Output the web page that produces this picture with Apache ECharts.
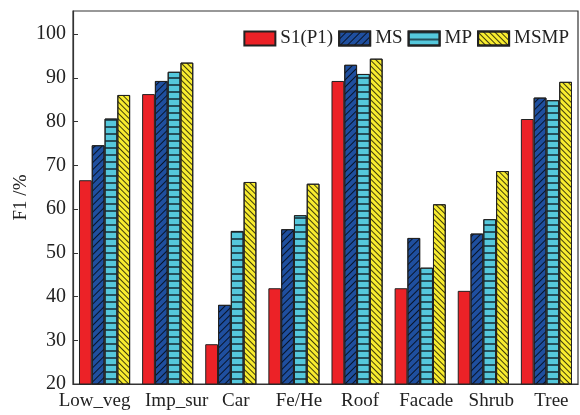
<!DOCTYPE html>
<html>
<head>
<meta charset="utf-8">
<script src="https://cdn.jsdelivr.net/npm/echarts@6/dist/echarts.min.js"></script>
<style>html,body{margin:0;padding:0;background:#fff}#c{width:580px;height:415px}</style>
</head>
<body>
<div id="c"></div>
<script>
var categories = ['Low_veg','Imp_sur','Car','Fe/He','Roof','Facade','Shrub','Tree'];
var seriesNames = ['S1(P1)','MS','MP','MSMP'];
var s1 = [66.6, 86.3, 29.1, 41.9, 89.3, 41.9, 41.3, 80.6];
var ms = [74.6, 89.3, 38.1, 55.4, 93.0, 53.4, 54.4, 85.5];
var mp = [80.7, 91.4, 55.0, 58.6, 90.9, 46.6, 57.7, 84.9];
var msmp = [86.1, 93.5, 66.2, 65.8, 94.4, 61.1, 68.7, 89.1];
var yTicks = [20,30,40,50,60,70,80,90,100];

var font = '"Liberation Serif", "DejaVu Serif", serif';
var colors = ['#ec2227','#1f4f9f','#55c8dc','#f8ec2f'];
var decals = [
  'none',
  {symbol:'rect', symbolSize:1, dashArrayX:[1,0], dashArrayY:[1,4], rotation:-Math.PI/4, color:'rgba(0,0,0,0.75)'},
  {symbol:'rect', symbolSize:1, dashArrayX:[1,0], dashArrayY:[2,5], rotation:0, color:'rgba(20,40,50,0.75)'},
  {symbol:'rect', symbolSize:1, dashArrayX:[1,0], dashArrayY:[1,3], rotation:Math.PI/4, color:'rgba(0,0,0,0.75)'}
];
// label horizontal nudges (px) to mimic reference label placement
var labelShift = [-10, 9, 5, 5, 3, 6, 8, 5];
var rich = {};
labelShift.forEach(function(s,i){
  rich['p'+i] = {fontFamily:font, fontSize:19, color:'#222',
    padding: s < 0 ? [0, -2*s, 0, 0] : [0, 0, 0, 2*s]};
});
var data = [s1, ms, mp, msmp];
var chart = echarts.init(document.getElementById('c'), null, {renderer:'canvas'});
var series = seriesNames.map(function(n,i){
  var st = {color:colors[i], borderColor:'#222', borderWidth:1};
  if (decals[i] !== 'none') st.decal = decals[i];
  return {name:n, type:'bar', data:data[i], barGap:'0%', barCategoryGap:'19%', itemStyle:st, animation:false};
});
chart.setOption({
  animation:false,
  grid:{left:73, right:2, top:11, bottom:31, show:true, borderColor:'#333', borderWidth:1.2, outerBoundsMode:'none'},
  legend:{
    right:6, top:24, itemWidth:31, itemHeight:14, itemGap:5, icon:'rect',
    textStyle:{fontFamily:font, fontSize:19, color:'#222'},
    data:seriesNames
  },
  xAxis:{
    type:'category', data:categories,
    axisLine:{lineStyle:{color:'#333', width:1.2}},
    axisTick:{show:false},
    axisLabel:{fontFamily:font, fontSize:19, color:'#222', margin:8, interval:0, rich:rich,
      formatter:function(v, idx){ return '{p'+idx+'|'+v+'}'; }}
  },
  yAxis:{
    type:'value', min:20, max:105.3, interval:10,
    name:'F1 /%', nameLocation:'middle', nameGap:42, nameMoveOverlap:false,
    nameTextStyle:{fontFamily:font, fontSize:19, color:'#222'},
    axisLine:{show:true, lineStyle:{color:'#333', width:1.2}},
    axisTick:{show:true, inside:true, length:5, lineStyle:{color:'#333'}},
    splitLine:{show:false},
    axisLabel:{fontFamily:font, fontSize:20, color:'#222', margin:7, showMaxLabel:false,
      formatter:function(v){ return yTicks.indexOf(v) >= 0 ? String(v) : ''; }}
  },
  series:series
});
</script>
</body>
</html>
